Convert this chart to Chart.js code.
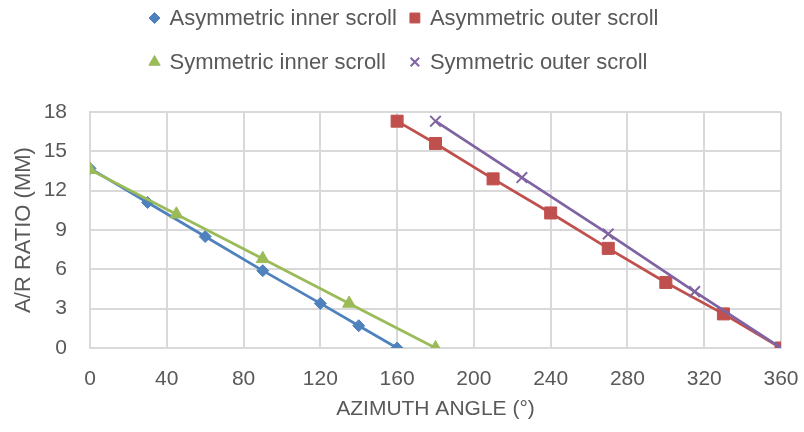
<!DOCTYPE html>
<html>
<head>
<meta charset="utf-8">
<script src="https://cdn.jsdelivr.net/npm/chart.js@4/dist/chart.umd.min.js"></script>
<style>
  html, body { margin: 0; padding: 0; background: #ffffff; }
  #wrap { width: 804px; height: 432px; position: relative; }
</style>
</head>
<body>
<div id="wrap"><canvas id="c"></canvas></div>
<script>
// ---- Data ----
const seriesNames = ['Asymmetric inner scroll', 'Asymmetric outer scroll', 'Symmetric inner scroll', 'Symmetric outer scroll'];

const asymInnerAngle = [0, 30, 60, 90, 120, 140, 160];
const asymInnerRatio = [13.7, 11.1, 8.5, 5.9, 3.4, 1.7, 0];

const asymOuterAngle = [160, 180, 210, 240, 270, 300, 330, 360];
const asymOuterRatio = [17.3, 15.6, 12.9, 10.3, 7.6, 5.0, 2.6, 0];

const symInnerAngle = [0, 45, 90, 135, 180];
const symInnerRatio = [13.6, 10.2, 6.8, 3.4, 0];

const symOuterAngle = [180, 225, 270, 315, 360];
const symOuterRatio = [17.3, 13.0, 8.7, 4.3, 0];

const xTicks = [0, 40, 80, 120, 160, 200, 240, 280, 320, 360];
const yTicks = [0, 3, 6, 9, 12, 15, 18];

const xTitle = 'AZIMUTH ANGLE (°)';
const yTitle = 'A/R RATIO (MM)';

// ---- Helpers ----
const toPoints = (xs, ys) => xs.map((x, i) => ({ x: x, y: ys[i] }));
const TEXT = '#595959';
const GRID = '#d9d9d9';
const FONT = "'Liberation Sans', Arial, sans-serif";

// Custom grid-like legend (2 columns), like the reference
const gridLegend = {
  id: 'gridLegend',
  afterDraw(chart, args, opts) {
    const ctx = chart.ctx;
    const items = chart.data.datasets;
    const cols = opts.columns;
    ctx.save();
    ctx.font = opts.fontSize + 'px ' + FONT;
    const colW = [];
    items.forEach((ds, i) => {
      const c = i % cols;
      colW[c] = Math.max(colW[c] || 0, ctx.measureText(ds.label).width);
    });
    const markerHalf = opts.markerRadius;
    let total = 0;
    for (let c = 0; c < cols; c++) total += markerHalf + opts.textGap + colW[c];
    total += opts.colGap * (cols - 1);
    total += markerHalf;
    const startX = (chart.width - total) / 2 + markerHalf + opts.offsetX;
    const colX = [];
    let cx = startX;
    for (let c = 0; c < cols; c++) {
      colX.push(cx);
      cx += opts.textGap + colW[c] + opts.colGap;
    }
    items.forEach((ds, i) => {
      const c = i % cols, r = Math.floor(i / cols);
      const x = colX[c];
      const y = opts.rowY[r];
      ctx.fillStyle = ds.pointBackgroundColor;
      ctx.strokeStyle = ds.pointBorderColor;
      ctx.lineWidth = ds.pointBorderWidth;
      Chart.helpers.drawPoint(ctx, {
        pointStyle: ds.pointStyle,
        radius: ds.legendRadius,
        rotation: 0,
        borderWidth: ds.pointBorderWidth
      }, x, y);
      ctx.fillStyle = TEXT;
      ctx.textAlign = 'left';
      ctx.textBaseline = 'middle';
      ctx.fillText(ds.label, x + opts.textGap, y + 1);
    });
    ctx.restore();
  }
};

const BLUE = '#4f81bd', RED = '#c0504d', GREEN = '#9bbb59', PURPLE = '#8064a2';

const datasets = [
  {
    label: seriesNames[0],
    data: toPoints(asymInnerAngle, asymInnerRatio),
    borderColor: BLUE, backgroundColor: BLUE,
    pointStyle: 'rectRot', pointRadius: 6, legendRadius: 5.5,
    pointBackgroundColor: BLUE, pointBorderColor: BLUE, pointBorderWidth: 1,
    borderWidth: 2.75, order: 3
  },
  {
    label: seriesNames[1],
    data: toPoints(asymOuterAngle, asymOuterRatio),
    borderColor: RED, backgroundColor: RED,
    pointStyle: 'rect', pointRadius: 8.5, legendRadius: 7,
    pointBackgroundColor: RED, pointBorderColor: RED, pointBorderWidth: 1,
    borderWidth: 2.75, order: 2
  },
  {
    label: seriesNames[2],
    data: toPoints(symInnerAngle, symInnerRatio),
    borderColor: GREEN, backgroundColor: GREEN,
    pointStyle: 'triangle', pointRadius: 7.5, legendRadius: 6.5,
    pointBackgroundColor: GREEN, pointBorderColor: GREEN, pointBorderWidth: 1,
    borderWidth: 2.75, order: 1
  },
  {
    label: seriesNames[3],
    data: toPoints(symOuterAngle, symOuterRatio),
    borderColor: PURPLE, backgroundColor: PURPLE,
    pointStyle: 'crossRot', pointRadius: 7.5, legendRadius: 6,
    pointBackgroundColor: PURPLE, pointBorderColor: PURPLE, pointBorderWidth: 2,
    borderWidth: 2.75, order: 0
  }
];

new Chart(document.getElementById('c'), {
  type: 'scatter',
  data: { datasets: datasets },
  plugins: [gridLegend],
  options: {
    responsive: true,
    maintainAspectRatio: false,
    animation: false,
    showLine: true,
    elements: {
      line: { tension: 0 },
      point: { hoverRadius: 8 }
    },
    layout: { padding: { top: 112, right: 0, bottom: 0, left: 0 } },
    plugins: {
      legend: { display: false },
      tooltip: { enabled: false },
      gridLegend: {
        columns: 2,
        fontSize: 22,
        markerRadius: 5,
        textGap: 15,
        colGap: 18,
        offsetX: 7,
        rowY: [18, 62]
      }
    },
    scales: {
      x: {
        type: 'linear',
        min: xTicks[0],
        max: xTicks[xTicks.length - 1],
        afterBuildTicks: (scale) => { scale.ticks = xTicks.map(v => ({ value: v })); },
        afterFit: (scale) => { scale.height = 84; scale.paddingRight = 23; scale.paddingLeft = 0; },
        grid: { color: GRID, lineWidth: 2, drawTicks: false },
        border: { color: GRID, width: 2 },
        ticks: { color: TEXT, font: { family: FONT, size: 21 }, padding: 19, maxRotation: 0 },
        title: {
          display: true, text: xTitle, color: TEXT,
          font: { family: FONT, size: 21 }, padding: { top: 0, bottom: 10 }
        }
      },
      y: {
        type: 'linear',
        min: yTicks[0],
        max: yTicks[yTicks.length - 1],
        afterBuildTicks: (scale) => { scale.ticks = yTicks.map(v => ({ value: v })); },
        afterFit: (scale) => { scale.width = 90; },
        grid: { color: GRID, lineWidth: 2, drawTicks: false },
        border: { color: GRID, width: 2 },
        ticks: { color: TEXT, font: { family: FONT, size: 21 }, padding: 23 },
        title: {
          display: true, text: yTitle, color: TEXT,
          font: { family: FONT, size: 22 }, padding: { top: 11, bottom: 9 }
        }
      }
    }
  }
});
</script>
</body>
</html>
